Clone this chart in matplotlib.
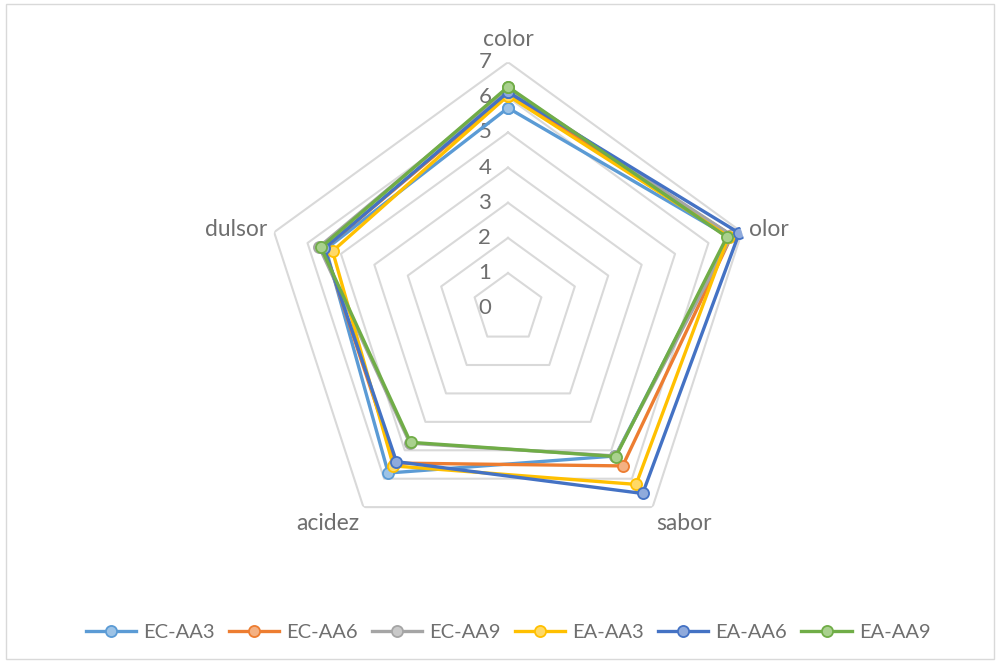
import numpy as np
import matplotlib
matplotlib.use('Agg')
from matplotlib import pyplot as plt
from matplotlib import transforms
from matplotlib.patches import Rectangle

plt.rcParams['font.family'] = ['Lato', 'DejaVu Sans']

categories = ['color', 'olor', 'sabor', 'acidez', 'dulsor']
series = ['EC-AA3', 'EC-AA6', 'EC-AA9', 'EA-AA3', 'EA-AA6', 'EA-AA9']

ec_aa3 = [5.70, 6.60, 5.20, 5.80, 5.45]
ec_aa6 = [6.10, 6.70, 5.55, 5.45, 5.50]
ec_aa9 = [6.25, 6.70, 5.20, 4.75, 5.65]
ea_aa3 = [6.05, 6.60, 6.20, 5.55, 5.25]
ea_aa6 = [6.15, 6.92, 6.52, 5.40, 5.50]
ea_aa9 = [6.30, 6.55, 5.22, 4.72, 5.60]
values = [ec_aa3, ec_aa6, ec_aa9, ea_aa3, ea_aa6, ea_aa9]

line_colors = ['#5b9bd5', '#ed7d31', '#a5a5a5', '#ffc000', '#4472c4', '#70ad47']
face_colors = ['#9dc3e6', '#f4b183', '#c9c9c9', '#ffd966', '#8faadc', '#a9d18e']
levels = [0, 1, 2, 3, 4, 5, 6, 7]

text_col = '#6f6f6f'
fig = plt.figure(figsize=(10, 6.62), dpi=100)
fig.patches.append(Rectangle((0.006, 0.004), 0.988, 0.99, transform=fig.transFigure,
                             fill=False, edgecolor='#d9d9d9', linewidth=1))

ax = fig.add_axes([0.262, 0.163, 0.492, 0.743], projection='polar')
ax.set_theta_offset(np.pi / 2)
ax.set_theta_direction(-1)
ax.set_ylim(0, 7)
ax.grid(False)
ax.spines['polar'].set_visible(False)
ax.set_xticks([])
ax.set_yticks([])
ax.patch.set_alpha(0)

angles = np.linspace(0, 2 * np.pi, len(categories), endpoint=False)
closed = np.append(angles, angles[0])

# pentagon grid
for lv in levels[1:]:
    ax.plot(closed, [lv] * len(closed), color='#d9d9d9', lw=1.5, zorder=1)

# radial value labels
off = transforms.offset_copy(ax.transData, fig=fig, x=-12, y=0, units='points')
for lv in levels:
    ax.text(0, lv, str(lv), transform=off, ha='right', va='center',
            fontsize=16, color=text_col)

# category labels
cat_align = [('center', 'bottom'), ('left', 'center'), ('left', 'top'),
             ('right', 'top'), ('right', 'center')]
cat_r = [7.35, 7.2, 7.2, 7.2, 7.2]
for a, name, (ha, va), r in zip(angles, categories, cat_align, cat_r):
    ax.text(a, r, name, ha=ha, va=va, fontsize=16.5, color=text_col)

for name, vals, lc, fc in zip(series, values, line_colors, face_colors):
    ax.plot(closed, vals + vals[:1], color=lc, lw=2.4, marker='o', markersize=8,
            markerfacecolor=fc, markeredgecolor=lc, markeredgewidth=1.3,
            label=name, zorder=3)

leg = fig.legend(loc='center', bbox_to_anchor=(0.508, 0.045), ncol=6, frameon=False,
                 fontsize=14.5, handlelength=2.5, columnspacing=0.7, handletextpad=0.35)
for t in leg.get_texts():
    t.set_color(text_col)

fig.savefig('out.png', dpi=100)
